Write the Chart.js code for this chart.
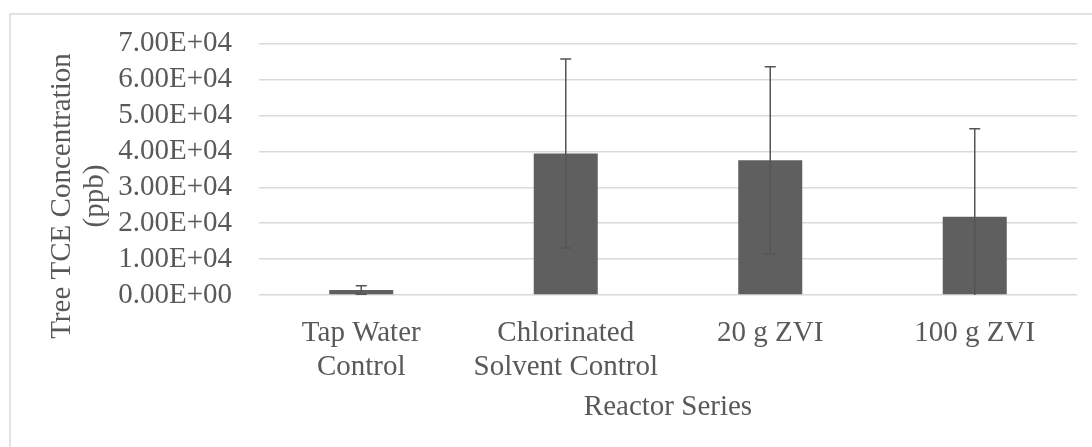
<!DOCTYPE html>
<html>
<head>
<meta charset="utf-8">
<script src="https://cdn.jsdelivr.net/npm/chart.js@4.4.1/dist/chart.umd.min.js"></script>
<style>
  html, body { margin: 0; padding: 0; background: #ffffff; }
  #wrap { position: relative; width: 1092px; height: 447px; overflow: hidden; }
</style>
</head>
<body>
<div id="wrap"><canvas id="tce-chart" width="1092" height="447"></canvas></div>
<script>
// values
var categories = [['Tap Water', 'Control'], ['Chlorinated', 'Solvent Control'], '20 g ZVI', '100 g ZVI'];
var concentration = [1400, 39400, 37500, 21800];
var errorAmount = [1200, 26300, 26100, 24500];
var yTickLabels = ['0.00E+00', '1.00E+04', '2.00E+04', '3.00E+04', '4.00E+04', '5.00E+04', '6.00E+04', '7.00E+04'];
var yTitle = ['Tree TCE Concentration', '(ppb)'];
var xTitle = 'Reactor Series';

var textColor = '#595959';
var serif = "'Liberation Serif', 'Times New Roman', serif";
var labelFont = { family: serif, size: 29, lineHeight: 1.15 };

// light grey frame round the chart (only top and left edges show in the crop)
var framePlugin = {
    id: 'frame',
    beforeDraw: function(chart) {
        var ctx = chart.ctx;
        ctx.save();
        ctx.strokeStyle = '#d9d9d9';
        ctx.lineWidth = 1.5;
        ctx.strokeRect(10, 14, 1300, 600);
        ctx.restore();
    }
};

// error bars drawn from the data arrays through the y scale
var errorBarPlugin = {
    id: 'errorBars',
    afterDatasetsDraw: function(chart) {
        var ctx = chart.ctx;
        var yScale = chart.scales.y;
        var meta = chart.getDatasetMeta(0);
        ctx.save();
        ctx.strokeStyle = '#555555';
        ctx.lineWidth = 1.5;
        meta.data.forEach(function(bar, i) {
            var hi = concentration[i] + errorAmount[i];
            var lo = concentration[i] - errorAmount[i];
            var yHi = yScale.getPixelForValue(hi);
            var yLo = yScale.getPixelForValue(Math.max(lo, 0));
            ctx.beginPath();
            ctx.moveTo(bar.x, yHi);
            ctx.lineTo(bar.x, yLo);
            ctx.moveTo(bar.x - 5.5, yHi);
            ctx.lineTo(bar.x + 5.5, yHi);
            if (lo > 0) {
                ctx.moveTo(bar.x - 5.5, yLo);
                ctx.lineTo(bar.x + 5.5, yLo);
            }
            ctx.stroke();
        });
        ctx.restore();
    }
};

// y axis title, centred a bit lower than the plot like the original
var yTitlePlugin = {
    id: 'yTitle',
    afterDraw: function(chart) {
        var ctx = chart.ctx;
        ctx.save();
        ctx.fillStyle = textColor;
        ctx.font = '29px ' + serif;
        ctx.textAlign = 'center';
        ctx.textBaseline = 'middle';
        yTitle.forEach(function(line, i) {
            ctx.save();
            ctx.translate(62 + i * 33.4, 196);
            ctx.rotate(-Math.PI / 2);
            ctx.fillText(line, 0, 0);
            ctx.restore();
        });
        ctx.restore();
    }
};

var ctx = document.getElementById('tce-chart').getContext('2d');
var chart = new Chart(ctx, {
    type: 'bar',
    data: {
        labels: categories,
        datasets: [{
            label: 'Tree TCE Concentration',
            data: concentration,
            backgroundColor: '#5f5f5f',
            borderWidth: 0,
            categoryPercentage: 1,
            barPercentage: 0.313
        }]
    },
    options: {
        responsive: false,
        animation: false,
        layout: {
            padding: { top: 43, right: 15, bottom: 0, left: 0 }
        },
        plugins: {
            legend: { display: false },
            tooltip: { enabled: false }
        },
        scales: {
            x: {
                grid: { display: false },
                border: { display: false },
                ticks: {
                    color: textColor,
                    font: labelFont,
                    padding: 14,
                    maxRotation: 0,
                    autoSkip: false
                },
                title: {
                    display: true,
                    text: xTitle,
                    color: textColor,
                    font: labelFont,
                    padding: { top: 0, bottom: 23 }
                },
                afterFit: function(scale) { scale.height = 152; }
            },
            y: {
                min: 0,
                max: 70000,
                grid: { color: '#d9d9d9', lineWidth: 1.5, drawTicks: false },
                border: { display: false },
                ticks: {
                    stepSize: 10000,
                    autoSkip: false,
                    color: textColor,
                    font: labelFont,
                    padding: 27,
                    callback: function(value, index) { return yTickLabels[index]; }
                },
                afterFit: function(scale) { scale.width = 259; }
            }
        }
    },
    plugins: [framePlugin, errorBarPlugin, yTitlePlugin]
});
</script>
</body>
</html>
